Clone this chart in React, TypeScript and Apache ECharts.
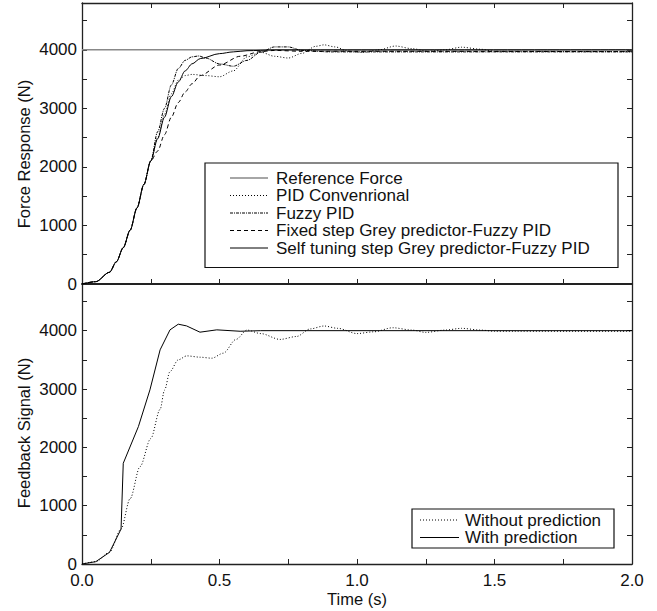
import React, { useEffect, useRef } from "react";
import * as echarts from "echarts";

// ---- Data (time s, force N) ----
const referenceForce: number[][] = [[0, 4000], [2, 4000]];

const commonRise: number[][] = [
  [0, 0], [0.05, 40], [0.1, 200], [0.125, 380], [0.15, 620], [0.175, 920],
  [0.2, 1300], [0.225, 1700], [0.25, 2100],
];

const pidConventional: number[][] = [
  [0.275, 2500], [0.3, 2900], [0.325, 3250], [0.35, 3480], [0.375, 3560], [0.4, 3580],
  [0.45, 3560], [0.5, 3540], [0.55, 3640], [0.6, 3880], [0.65, 3960], [0.7, 3890],
  [0.75, 3860], [0.8, 3940], [0.85, 4060], [0.88, 4085], [0.92, 4050], [0.97, 3975],
  [1.02, 3955], [1.08, 4000], [1.14, 4065], [1.2, 4020], [1.26, 3975], [1.32, 4000],
  [1.38, 4045], [1.45, 4010], [1.5, 3975], [2.0, 3970],
];

const fuzzyPid: number[][] = [
  [0.275, 2600], [0.3, 3000], [0.325, 3400], [0.35, 3680], [0.375, 3820], [0.4, 3880],
  [0.425, 3895], [0.45, 3860], [0.5, 3760], [0.55, 3720], [0.6, 3820], [0.65, 3960],
  [0.7, 4050], [0.75, 4050], [0.8, 3990], [0.9, 3965], [2.0, 3965],
];

const fixedStepGrey: number[][] = [
  [0.275, 2270], [0.3, 2550], [0.325, 2850], [0.35, 3100], [0.375, 3280], [0.4, 3420],
  [0.43, 3560], [0.5, 3740], [0.575, 3890], [0.65, 3970], [0.7, 3990], [0.8, 3975],
  [2.0, 3970],
];

const selfTuningGrey: number[][] = [
  [0.275, 2480], [0.3, 2850], [0.325, 3200], [0.35, 3450], [0.375, 3640], [0.4, 3760],
  [0.43, 3850], [0.5, 3935], [0.55, 3965], [0.6, 3985], [0.7, 3998], [2.0, 4000],
];

const withoutPrediction: number[][] = [
  [0, 0], [0.05, 40], [0.1, 200], [0.142, 600], [0.175, 1120], [0.211, 1669],
  [0.25, 2150], [0.284, 2650], [0.3, 2980], [0.32, 3300], [0.35, 3500], [0.381, 3568],
  [0.43, 3545], [0.472, 3528], [0.514, 3614], [0.56, 3850], [0.6, 4010], [0.65, 3950],
  [0.72, 3850], [0.78, 3900], [0.83, 4030], [0.88, 4080], [0.93, 4040], [1.0, 3950],
  [1.06, 3980], [1.13, 4050], [1.2, 4010], [1.25, 3970], [1.32, 4010], [1.38, 4040],
  [1.45, 4010], [1.5, 3990], [2.0, 3990],
];

const withPrediction: number[][] = [
  [0, 0], [0.05, 40], [0.1, 200], [0.142, 600], [0.15, 1727], [0.205, 2355],
  [0.247, 2985], [0.284, 3671], [0.32, 4014], [0.35, 4111], [0.38, 4082], [0.429, 3974],
  [0.49, 4014], [0.575, 3990], [0.65, 4000], [2.0, 4000],
];

const topLegendLabels = [
  "Reference Force",
  "PID Convenrional",
  "Fuzzy PID",
  "Fixed step Grey predictor-Fuzzy PID",
  "Self tuning step Grey predictor-Fuzzy PID",
];
const bottomLegendLabels = ["Without prediction", "With prediction"];

const FONT = "'Liberation Sans', Arial, Helvetica, sans-serif";
const AX = "#222";

export default function App() {
  const ref = useRef<HTMLDivElement>(null);

  useEffect(() => {
    document.body.style.margin = "0";
    if (!ref.current) return;
    const chart = echarts.init(ref.current, undefined, { renderer: "svg" });

    const withRise = (d: number[][]) => [...commonRise, ...d];

    const xBase = (gridIndex: number, position: string, showLabel: boolean) => ({
      type: "value",
      gridIndex,
      position,
      min: 0,
      max: 2,
      interval: 0.25,
      axisLine: { show: true, onZero: false, lineStyle: { color: AX, width: position === "bottom" && gridIndex === 0 ? 2 : 1.3 } },
      axisTick: { show: true, inside: true, length: 5, lineStyle: { color: AX, width: 1 } },
      splitLine: { show: false },
      axisLabel: {
        show: showLabel,
        fontSize: 17,
        fontFamily: FONT,
        color: "#111",
        margin: 8,
        formatter: (v: number) =>
          Math.abs(v * 2 - Math.round(v * 2)) < 1e-9 ? v.toFixed(1) : "",
      },
    });

    const yBase = (gridIndex: number, position: string, showLabel: boolean, padBottom = 0) => ({
      type: "value",
      gridIndex,
      position,
      min: 0,
      max: 4800,
      interval: 500,
      axisLine: { show: true, onZero: false, lineStyle: { color: AX, width: 1.3 } },
      axisTick: { show: true, inside: true, length: 5, lineStyle: { color: AX, width: 1 } },
      splitLine: { show: false },
      axisLabel: {
        show: showLabel,
        fontSize: 17,
        fontFamily: FONT,
        color: "#111",
        margin: 5,
        padding: [0, 0, padBottom, 0],
        formatter: (v: number) => (v % 1000 === 0 && v <= 4000 ? String(v) : ""),
      },
    });

    const line = (
      name: string,
      data: number[][],
      xi: number,
      yi: number,
      type: any,
      color = "#000",
      width = 1,
      smooth: any = 0.3
    ) => ({
      name,
      type: "line",
      xAxisIndex: xi,
      yAxisIndex: yi,
      data,
      showSymbol: false,
      smooth,
      smoothMonotone: "x",
      lineStyle: { color, width, type },
      silent: true,
    });

    const legendLine = (x1: number, x2: number, y: number, dash: number[] | null, color = "#000", width = 1) => ({
      type: "line",
      shape: { x1, y1: y, x2, y2: y },
      style: { stroke: color, lineWidth: width, lineDash: dash || undefined },
      z: 101,
    });
    const legendText = (x: number, y: number, text: string) => ({
      type: "text",
      x,
      y,
      style: { text, fontSize: 17, fontFamily: FONT, fill: "#111", textVerticalAlign: "middle", textAlign: "left" },
      z: 101,
    });

    const topRows = [178, 195.5, 213, 230.5, 248];
    const topDash: (number[] | null)[] = [null, [1, 2], [3, 1, 1, 1], [4, 3], null];
    const topColor = ["#888", "#000", "#000", "#000", "#000"];
    const topWidth = [1.5, 1, 1, 1, 1];

    const botRows = [520, 537.5];
    const botDash: (number[] | null)[] = [[1, 2], null];

    const graphics: any[] = [
      {
        type: "text",
        x: 24,
        y: 154,
        rotation: Math.PI / 2,
        style: { text: "Force Response (N)", fontSize: 16.5, fontFamily: FONT, fill: "#111", textAlign: "center", textVerticalAlign: "middle" },
      },
      {
        type: "text",
        x: 24,
        y: 433,
        rotation: Math.PI / 2,
        style: { text: "Feedback Signal (N)", fontSize: 16.5, fontFamily: FONT, fill: "#111", textAlign: "center", textVerticalAlign: "middle" },
      },
      {
        type: "rect",
        shape: { x: 205, y: 163, width: 413, height: 104.5 },
        style: { fill: "#fff", stroke: "#111", lineWidth: 1.2 },
        z: 100,
      },
      {
        type: "rect",
        shape: { x: 412, y: 509, width: 202, height: 39 },
        style: { fill: "#fff", stroke: "#111", lineWidth: 1.2 },
        z: 100,
      },
    ];
    topLegendLabels.forEach((lab, i) => {
      graphics.push(legendLine(230, 268, topRows[i], topDash[i], topColor[i], topWidth[i]));
      graphics.push(legendText(276, topRows[i], lab));
    });
    bottomLegendLabels.forEach((lab, i) => {
      graphics.push(legendLine(420, 459, botRows[i], botDash[i]));
      graphics.push(legendText(465, botRows[i], lab));
    });

    chart.setOption({
      animation: false,
      backgroundColor: "#fff",
      textStyle: { fontFamily: FONT },
      grid: [
        { left: 82, top: 3, width: 550, height: 281 },
        { left: 82, top: 284, width: 550, height: 280 },
      ],
      xAxis: [
        xBase(0, "bottom", false),
        xBase(0, "top", false),
        {
          ...xBase(1, "bottom", true),
          name: "Time (s)",
          nameLocation: "middle",
          nameGap: 26,
          nameTextStyle: { fontSize: 16.5, fontFamily: FONT, color: "#111" },
        },
      ],
      yAxis: [
        yBase(0, "left", true),
        yBase(0, "right", false),
        yBase(1, "left", true, 5),
        yBase(1, "right", false),
      ],
      series: [
        line(topLegendLabels[0], referenceForce, 0, 0, "solid", "#888", 1.5, false),
        line(topLegendLabels[1], withRise(pidConventional), 0, 0, [1, 2]),
        line(topLegendLabels[2], withRise(fuzzyPid), 0, 0, [3, 1, 1, 1]),
        line(topLegendLabels[3], withRise(fixedStepGrey), 0, 0, [4, 3]),
        line(topLegendLabels[4], withRise(selfTuningGrey), 0, 0, "solid"),
        line(bottomLegendLabels[0], withoutPrediction, 2, 2, [1, 2]),
        line(bottomLegendLabels[1], withPrediction, 2, 2, "solid", "#000", 1, false),
      ],
      graphic: graphics,
    });

    return () => chart.dispose();
  }, []);

  return <div ref={ref} style={{ width: 657, height: 611 }} />;
}
